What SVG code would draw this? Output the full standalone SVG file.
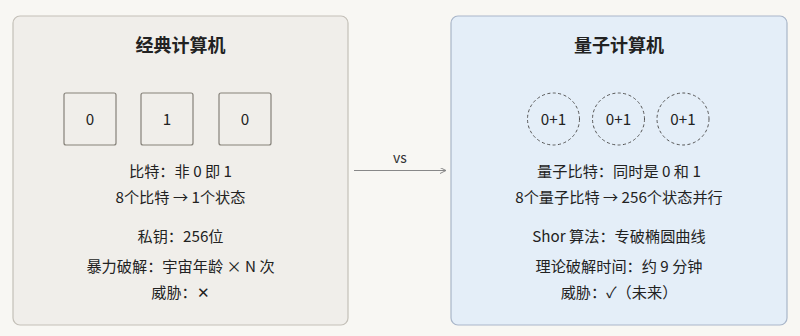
<svg xmlns="http://www.w3.org/2000/svg" width="800" height="336" viewBox="0 0 800 336">
<defs>
<style>
text{font-family:"Noto Sans CJK SC","Noto Sans",sans-serif;fill:#222;text-anchor:middle}
.title{font-size:18px;font-weight:bold}
.t{font-size:15.2px}
.bit{fill:#f0eeea;stroke:#858179;stroke-width:1.2}
.qbit{fill:none;stroke:#555;stroke-width:1;stroke-dasharray:3 2.5}
</style>
<marker id="ah" markerWidth="8" markerHeight="8" refX="6" refY="3" orient="auto" markerUnits="userSpaceOnUse">
<path d="M0,0 L6,3 L0,6" fill="none" stroke="#888" stroke-width="1"/>
</marker>
</defs>
<rect width="800" height="336" fill="#f8f7f3"/>
<g id="classical">
<rect x="13" y="16" width="335" height="309" rx="7" fill="#f0eeea" stroke="#c4c0b8" stroke-width="1.2"/>
<text class="title" x="180.5" y="52">经典计算机</text>
<rect class="bit" x="64" y="93" width="52" height="52" rx="2"/>
<rect class="bit" x="141" y="93" width="52" height="52" rx="2"/>
<rect class="bit" x="219" y="93" width="52" height="52" rx="2"/>
<text class="t" x="90" y="125">0</text>
<text class="t" x="167" y="125">1</text>
<text class="t" x="245" y="125">0</text>
<text class="t" x="180.5" y="177">比特：非 0 即 1</text>
<text class="t" x="180.5" y="203">8个比特 → 1个状态</text>
<text class="t" x="180.5" y="242">私钥：256位</text>
<text class="t" x="180.5" y="272">暴力破解：宇宙年龄 × N 次</text>
<text class="t" x="180.5" y="298">威胁：✕</text>
</g>
<g id="quantum">
<rect x="451" y="16" width="336" height="309" rx="7" fill="#e4eef8" stroke="#a9b6c9" stroke-width="1.2"/>
<text class="title" x="619" y="52">量子计算机</text>
<circle class="qbit" cx="553.5" cy="119" r="26"/>
<circle class="qbit" cx="618.5" cy="119" r="26"/>
<circle class="qbit" cx="683" cy="119" r="26"/>
<text class="t" x="553.5" y="125">0+1</text>
<text class="t" x="618.5" y="125">0+1</text>
<text class="t" x="683" y="125">0+1</text>
<text class="t" x="619" y="177">量子比特：同时是 0 和 1</text>
<text class="t" x="619" y="203">8个量子比特 → 256个状态并行</text>
<text class="t" x="619" y="242">Shor 算法：专破椭圆曲线</text>
<text class="t" x="619" y="272">理论破解时间：约 9 分钟</text>
<text class="t" x="619" y="298">威胁：✓（未来）</text>
</g>
<g id="connectors">
<line x1="354" y1="170.5" x2="446" y2="170.5" stroke="#888" stroke-width="1" marker-end="url(#ah)"/>
<text x="400" y="163" style="font-size:14px;fill:#333">vs</text>
</g>
</svg>
